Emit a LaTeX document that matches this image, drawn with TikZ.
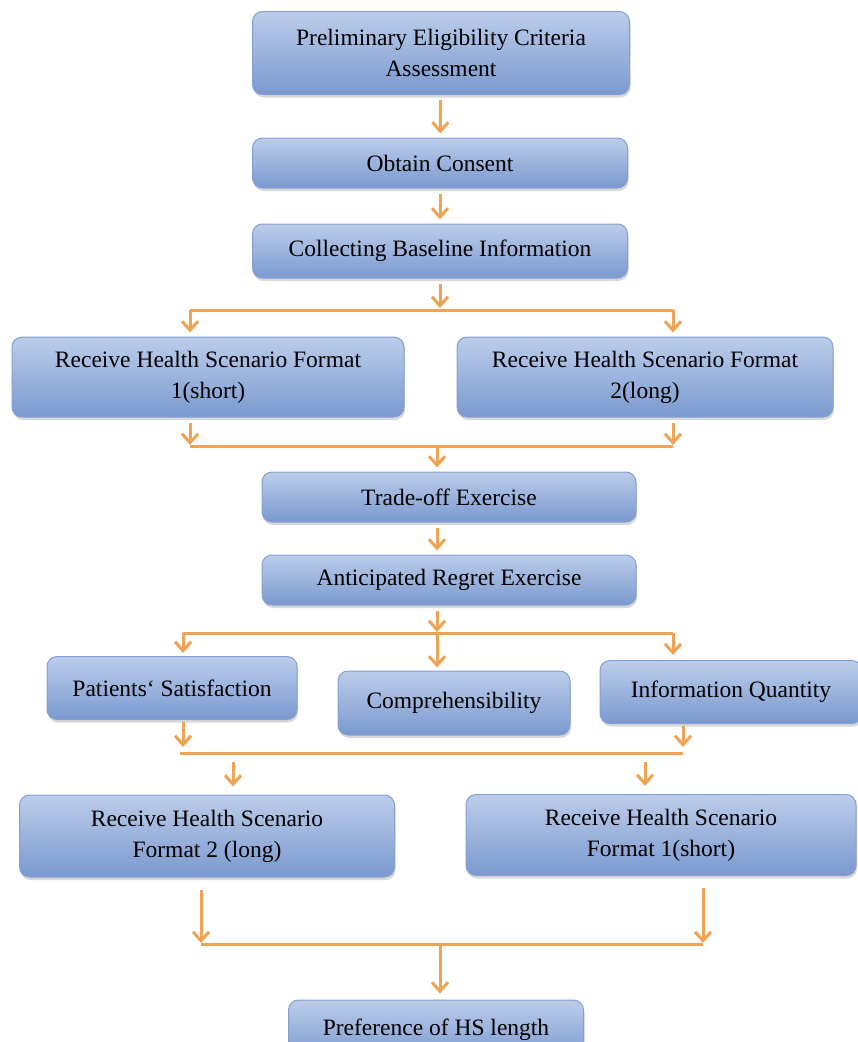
\documentclass[tikz,border=0pt]{standalone}
\usepackage{fontspec}
\setmainfont{Liberation Serif}
\usetikzlibrary{shadows,arrows.meta}
\definecolor{boxtop}{RGB}{188,205,234}
\definecolor{boxbot}{RGB}{122,153,207}
\definecolor{boxline}{RGB}{132,160,210}
\definecolor{flowline}{RGB}{238,164,84}

\tikzset{
  stage/.style={draw=boxline, line width=1pt, rounded corners=10pt,
    top color=boxtop, bottom color=boxbot,
    drop shadow={opacity=0.3, shadow xshift=1pt, shadow yshift=-3pt},
    align=center, inner sep=0pt, font=\fontsize{23.5}{31}\selectfont},
  flow/.style={flowline, line width=3pt, -{Straight Barb[length=9pt,width=16pt,line width=3pt]}},
  bar/.style={flowline, line width=3pt},
}

\begin{document}
\begin{tikzpicture}[x=1pt,y=-1pt]
\clip (0,0) rectangle (858,1042);
\fill[white] (0,0) rectangle (858,1042);

% Boxes
\node[stage, minimum width=377pt, minimum height=83pt] (assess) at (441,53) {Preliminary Eligibility Criteria\\Assessment};
\node[stage, minimum width=375pt, minimum height=50pt] (consent) at (440,163) {Obtain Consent};
\node[stage, minimum width=375pt, minimum height=54pt] (baseline) at (440,251) {Collecting Baseline Information};
\node[stage, minimum width=392pt, minimum height=80pt] (fmtA) at (208,377) {Receive Health Scenario Format\\1(short)};
\node[stage, minimum width=376pt, minimum height=80pt] (fmtB) at (645,377) {Receive Health Scenario Format\\2(long)};
\node[stage, minimum width=374pt, minimum height=50pt] (trade) at (449,497) {Trade-off Exercise};
\node[stage, minimum width=374pt, minimum height=50pt] (regret) at (449,580) {Anticipated Regret Exercise};
\node[stage, minimum width=250pt, minimum height=63pt] (satis) at (172,688) {Patients\symbol{"60} Satisfaction};
\node[stage, minimum width=232pt, minimum height=64pt] (compr) at (454,703) {Comprehensibility};
\node[stage, minimum width=262pt, minimum height=63pt] (quant) at (731,692) {Information Quantity};
\node[stage, minimum width=375pt, minimum height=82pt] (fmtC) at (207,836) {Receive Health Scenario\\Format 2 (long)};
\node[stage, minimum width=390pt, minimum height=81pt] (fmtD) at (661,835) {Receive Health Scenario\\Format 1(short)};
\node[stage, minimum width=295pt, minimum height=60pt] (pref) at (436,1030) {Preference of HS length};

% Branch points
\coordinate (sM) at (440,310);
\coordinate (sL) at (190,310);
\coordinate (sR) at (673,310);
\coordinate (jL) at (190,446);
\coordinate (jR) at (673,446);
\coordinate (jM) at (437,446);
\coordinate (tM) at (437,633);
\coordinate (tL) at (183,633);
\coordinate (tR) at (673,633);
\coordinate (uL) at (180,753);
\coordinate (uR) at (683,753);
\coordinate (dL) at (233,762);
\coordinate (dR) at (645,762);
\coordinate (vL) at (201,944);
\coordinate (vR) at (703,944);
\coordinate (vM) at (440,944);

% Connections
\draw[flow, shorten <=5pt, shorten >=4pt] (assess) -- (consent);
\draw[flow, shorten <=5pt, shorten >=4pt] (consent.south) -- (consent.south |- baseline.north);
\draw[flow, shorten <=5pt, shorten >=2pt] (baseline.south) -- (sM);
\draw[bar] (sL) -- (sR);
\draw[flow, shorten >=4pt] (sL) -- (sL |- fmtA.north);
\draw[flow, shorten >=4pt] (sR) -- (sR |- fmtB.north);

\draw[flow, shorten <=5pt, shorten >=1pt] (jL |- fmtA.south) -- (jL);
\draw[flow, shorten <=5pt, shorten >=1pt] (jR |- fmtB.south) -- (jR);
\draw[bar] (jL) -- (jR);
\draw[flow, shorten >=4pt] (jM) -- (jM |- trade.north);
\draw[flow, shorten <=5pt, shorten >=4pt] (jM |- trade.south) -- (jM |- regret.north);
\draw[flow, shorten <=5pt, shorten >=1pt] (jM |- regret.south) -- (tM);
\draw[bar] (tL) -- (tR);
\draw[flow, shorten >=3pt] (tL) -- (tL |- satis.north);
\draw[flow, shorten >=3pt] (tM) -- (tM |- compr.north);
\draw[flow, shorten >=5pt] (tR) -- (tR |- quant.north);

\draw[flow, shorten <=2pt, shorten >=6pt] (tL |- satis.south) -- (tL |- uL);
\draw[flow, shorten <=2pt, shorten >=6pt] (uR |- quant.south) -- (uR);
\draw[bar] (uL) -- (uR);
\draw[flow, shorten >=8pt] (dL) -- (dL |- fmtC.north);
\draw[flow, shorten >=8pt] (dR) -- (dR |- fmtD.north);

\draw[flow, shorten <=12pt, shorten >=1pt] (vL |- fmtC.south) -- (vL);
\draw[flow, shorten <=12pt, shorten >=1pt] (vR |- fmtD.south) -- (vR);
\draw[bar] (vL) -- (vR);
\draw[flow, shorten >=6pt] (vM) -- (vM |- pref.north);
\end{tikzpicture}
\end{document}
